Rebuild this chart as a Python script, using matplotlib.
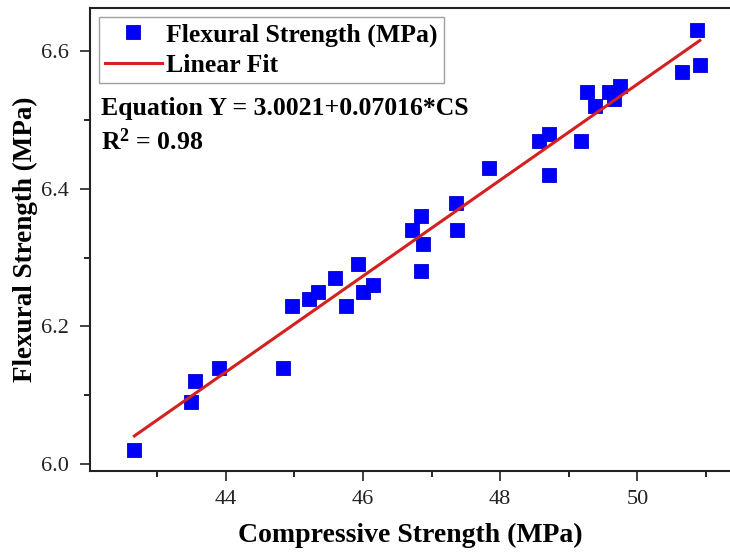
import numpy as np
import matplotlib.pyplot as plt

# valores
compressive = [42.67, 43.49, 43.55, 43.90, 44.84, 44.97, 45.22, 45.34, 45.60, 45.76,
               45.93, 46.00, 46.15, 46.71, 46.84, 46.88, 46.84, 47.35, 47.37, 47.84,
               48.57, 48.71, 48.71, 49.18, 49.26, 49.38, 49.59, 49.66, 49.74, 50.65,
               50.87, 50.91]
flexural = [6.02, 6.09, 6.12, 6.14, 6.14, 6.23, 6.24, 6.25, 6.27, 6.23,
            6.29, 6.25, 6.26, 6.34, 6.36, 6.32, 6.28, 6.38, 6.34, 6.43,
            6.47, 6.48, 6.42, 6.47, 6.54, 6.52, 6.54, 6.53, 6.55, 6.57,
            6.63, 6.58]
x_ticks = [44, 46, 48, 50]
y_ticks = [6.0, 6.2, 6.4, 6.6]

plt.rcParams['font.family'] = ['Liberation Serif', 'DejaVu Serif']
plt.rcParams['mathtext.fontset'] = 'custom'
plt.rcParams['mathtext.rm'] = 'Liberation Serif'
plt.rcParams['mathtext.bf'] = 'Liberation Serif:bold'

fig = plt.figure(figsize=(7.3, 5.54), dpi=100)
ax = fig.add_axes([0.123, 0.150, 0.877, 0.836])

x = np.asarray(compressive)
y = np.asarray(flexural)
m, b = np.polyfit(x, y, 1)
xs = np.array([x.min(), x.max()])

ax.plot(x, y, 's', color='#0000ff', markersize=10, markeredgecolor='#0000cc',
        markeredgewidth=0.6, label='Flexural Strength (MPa)', zorder=3)
ax.plot(xs, b + m * xs, '-', color='#d42020', linewidth=2.2, label='Linear Fit', zorder=4)

ax.set_xlim(42.02, 51.35)
ax.set_ylim(5.99, 6.663)
ax.set_xticks(x_ticks)
ax.set_yticks(y_ticks)
ax.set_xticks(np.arange(43, 52, 2), minor=True)
ax.set_yticks([6.1, 6.3, 6.5], minor=True)
ax.set_yticklabels([f"{v:.1f}" for v in y_ticks])
ax.tick_params(which='major', direction='out', length=7, width=1.2, labelsize=16, colors='#222222')
ax.tick_params(which='minor', direction='out', length=4, width=1.2)
ax.tick_params(axis='x', which='major', pad=7)
ax.tick_params(axis='y', which='major', pad=8)
for s in ['left', 'bottom', 'top']:
    ax.spines[s].set_linewidth(1.5)
    ax.spines[s].set_color('#222222')
ax.spines['right'].set_visible(False)

ax.set_xlabel('Compressive Strength (MPa)', fontsize=20, fontweight='bold', labelpad=10)
ax.set_ylabel('Flexural Strength (MPa)', fontsize=19.5, fontweight='bold', labelpad=2)

leg = ax.legend(loc='upper left', prop={'weight': 'bold', 'size': 18.5},
                frameon=True, fancybox=False, borderaxespad=0.35, handlelength=2.2,
                handletextpad=0.15, borderpad=0.25, labelspacing=0.28)
leg.get_frame().set_edgecolor('#888888')
leg.get_frame().set_linewidth(1.0)

ax.text(0.017, 0.782, 'Equation Y = 3.0021+0.07016*CS', transform=ax.transAxes,
        fontsize=18.5, fontweight='bold', va='center', ha='left')
ax.text(0.017, 0.71, r'$\mathbf{R^2}$ = 0.98', transform=ax.transAxes,
        fontsize=18.5, fontweight='bold', va='center', ha='left')

fig.savefig('out.png', dpi=100)
